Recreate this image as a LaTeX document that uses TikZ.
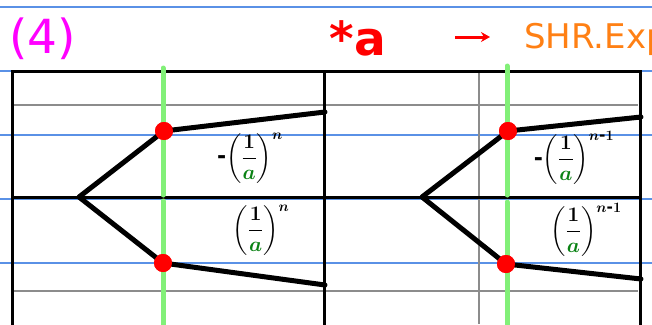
\documentclass[tikz,border=0pt]{standalone}
\usepackage{amsmath}
\usepackage{xcolor}
\usepackage{fontspec}
\setmainfont{DejaVu Sans}
\usetikzlibrary{arrows.meta,positioning}

\definecolor{rulecol}{RGB}{90,145,230}
\definecolor{gridgray}{RGB}{140,140,140}
\definecolor{guide}{RGB}{130,240,120}
\definecolor{dotred}{RGB}{255,0,0}
\definecolor{agreen}{RGB}{10,130,20}
\definecolor{titlemag}{RGB}{255,0,255}
\definecolor{shrorange}{RGB}{255,128,20}

\newcommand{\inva}{\dfrac{1}{\textcolor{agreen}{a}}}
\newcommand{\shortdash}{\text{\bfseries -}}

\begin{document}
\begin{tikzpicture}[
    x=1pt, y=-1pt,
    rule/.style={rulecol, line width=1.1pt},
    gridline/.style={gridgray, line width=2pt},
    frame/.style={black, line width=3pt},
    guideline/.style={guide, line width=5pt, line cap=round},
    branch/.style={black, line width=5pt, line join=round, line cap=round},
    dot/.style={circle, fill=dotred, inner sep=0pt, minimum size=18pt},
    weight/.style={font=\fontsize{22}{24}\selectfont\boldmath, inner sep=0pt}
]

\useasboundingbox (0,0) rectangle (652,324);
\clip (0,0) rectangle (652,324);

% ruled paper
\foreach \y in {7,71,135,199,263}
    \draw[rule] (0,\y) -- (652,\y);

% Title
\node[titlemag, font=\fontsize{47}{50}\selectfont, anchor=west, inner sep=0pt] (num) at (9,39) {(4)};
\node[dotred, font=\fontsize{47}{50}\selectfont\bfseries, inner sep=0pt] (stara) at (358,38) {*a};
\coordinate (arrS) at (455,37);
\coordinate (arrE) at (490,37);
\draw[dotred, line width=3pt, -{Stealth[length=9pt,width=10pt]}] (arrS) -- (arrE);
\node[shrorange, font=\fontsize{34}{36}\selectfont, anchor=west, inner sep=0pt] (shr) at (524,39) {SHR.Exp};

% grey lines
\draw[gridline] (12,105) -- (638,105);
\draw[gridline] (12,291) -- (638,291);
\draw[gridline] (479,71) -- (479,324);

% table frame
\draw[frame] (12,330) -- (12,71) -- (640,71) -- (640,330);
\draw[frame] (324,71) -- (324,330);
\draw[frame] (12,197) -- (640,197);

% green guides
\draw[guideline] (163,68) -- (163,195);
\draw[guideline] (163,201) -- (163,330);
\draw[guideline] (507,66) -- (507,195);
\draw[guideline] (507,202) -- (507,330);

% left tree
\coordinate (forkL) at (79,197);
\node[dot] (upL) at (164,131) {};
\node[dot] (loL) at (163,263) {};
\coordinate (endUL) at (325,112);
\coordinate (endLL) at (325,285);
\draw[branch] (endUL) -- (upL.center) -- (forkL) -- (loL.center) -- (endLL);
\node[dot] at (upL) {};
\node[dot] at (loL) {};

% right tree
\coordinate (forkR) at (422,197);
\node[dot] (upR) at (508,131) {};
\node[dot] (loR) at (506,264) {};
\coordinate (endUR) at (641,117);
\coordinate (endLR) at (641,279);
\draw[branch] (endUR) -- (upR.center) -- (forkR) -- (loR.center) -- (endLR);
\node[dot] at (upR) {};
\node[dot] at (loR) {};

% weights
\node[weight] (wUL) at (250,158) {$\shortdash\biggl(\inva\biggr)^{n}$};
\node[weight] (wLL) at (261,230) {$\biggl(\inva\biggr)^{n}$};
\node[weight] (wUR) at (574,158) {$\shortdash\biggl(\inva\biggr)^{n\shortdash1}$};
\node[weight] (wLR) at (586,230) {$\biggl(\inva\biggr)^{n\shortdash1}$};

\end{tikzpicture}
\end{document}
